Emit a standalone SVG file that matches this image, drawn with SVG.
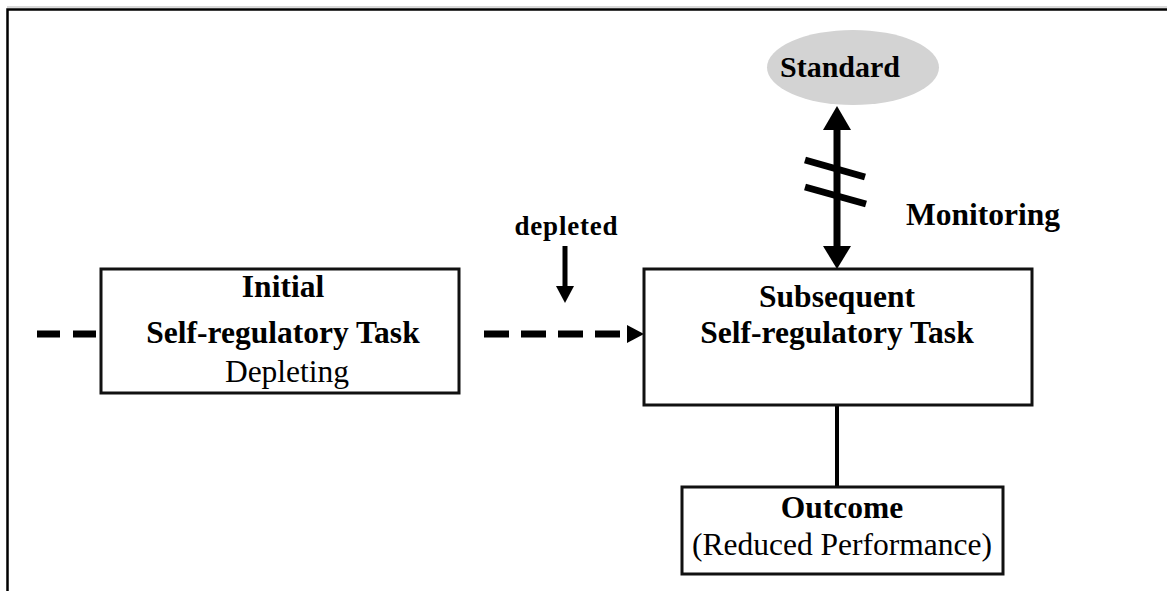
<svg xmlns="http://www.w3.org/2000/svg" width="1167" height="591" viewBox="0 0 1167 591">
<style>
.box{fill:#fff;stroke:#111;stroke-width:3}
.b{font-family:"Liberation Serif",serif;font-weight:bold;font-size:31.5px;fill:#000;text-anchor:middle}
.r{font-family:"Liberation Serif",serif;font-size:31.5px;fill:#000;text-anchor:middle}
.lbl{font-family:"Liberation Serif",serif;font-weight:bold;font-size:31.5px;fill:#000;text-anchor:start}
.dash{stroke:#000;stroke-width:7;fill:none}
</style>
<rect width="1167" height="591" fill="#fff"/>
<g id="frame">
<line x1="7" y1="7" x2="1167" y2="7" stroke="#ccc" stroke-width="1.5"/>
<polyline points="7.5,591 7.5,9.5 1167,9.5" fill="none" stroke="#000" stroke-width="2.5"/>
</g>
<g id="connectors">
<line class="dash" x1="37" y1="334" x2="100" y2="334" stroke-dasharray="23 13"/>
<line class="dash" x1="484" y1="334" x2="624" y2="334" stroke-dasharray="25 12"/>
<polygon points="644,334 627,325 627,343" fill="#000"/>
<line x1="565" y1="246" x2="565" y2="290" stroke="#000" stroke-width="5"/>
<polygon points="565,303 556,286 574,286" fill="#000"/>
<line x1="837" y1="126" x2="837" y2="250" stroke="#000" stroke-width="7"/>
<polygon points="837,106 823,130 851,130" fill="#000"/>
<polygon points="837,269 823,246 851,246" fill="#000"/>
<line x1="805" y1="160" x2="865" y2="177" stroke="#000" stroke-width="7"/>
<line x1="805" y1="187" x2="866" y2="204" stroke="#000" stroke-width="7"/>
<line x1="837" y1="405" x2="837" y2="488" stroke="#000" stroke-width="4"/>
</g>
<g id="standard">
<ellipse cx="853" cy="67.5" rx="86" ry="37.5" fill="#d3d3d3"/>
<text class="b" x="840" y="77" style="font-size:30px">Standard</text>
</g>
<g id="monitoring-label">
<text class="lbl" x="906" y="225">Monitoring</text>
</g>
<g id="depleted-label">
<text x="566" y="235" font-family="'Liberation Serif',serif" font-weight="bold" font-size="27" text-anchor="middle" textLength="103" lengthAdjust="spacing">depleted</text>
</g>
<g id="initial">
<rect class="box" x="101" y="269" width="358" height="124"/>
<text class="b" x="283" y="297">Initial</text>
<text class="b" x="283" y="343">Self-regulatory Task</text>
<text class="r" x="287" y="382">Depleting</text>
</g>
<g id="subsequent">
<rect class="box" x="644" y="269" width="388" height="136"/>
<text class="b" x="837" y="307">Subsequent</text>
<text class="b" x="837" y="343">Self-regulatory Task</text>
</g>
<g id="outcome">
<rect class="box" x="682" y="487" width="321" height="87"/>
<text class="b" x="842" y="518">Outcome</text>
<text class="r" x="842" y="555">(Reduced Performance)</text>
</g>
</svg>
